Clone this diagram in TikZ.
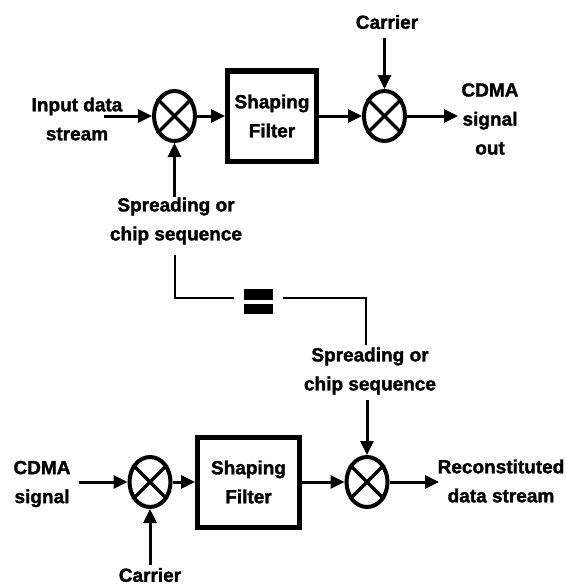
\documentclass[tikz,border=0pt]{standalone}
\usepackage{fontspec}
\setmainfont{Liberation Sans}[BoldFeatures={FakeBold=1.6}]
\usetikzlibrary{shapes.geometric,arrows.meta}

\begin{document}
\begin{tikzpicture}[x=1pt,y=-1pt]
 	\tikzstyle{every node}+=[inner sep=0pt]
 	\tikzstyle{lbl}=[align=center,font=\bfseries\fontsize{19}{29}\selectfont]
 	\tikzstyle{mixer}=[draw,ellipse,line width=4pt,minimum width=41pt,minimum height=50pt]
 	\tikzstyle{filt}=[draw,line width=5pt,lbl]
 	\tikzstyle{sig}=[line width=3pt,-{Triangle[length=14pt,width=13pt]}]
 	\tikzstyle{wire}=[line width=2.2pt]
 	\tikzstyle{eqsign}=[minimum width=29pt,minimum height=25pt,outer sep=10pt,
 	  path picture={\fill (path picture bounding box.north west) rectangle ([yshift=2pt]path picture bounding box.east);
 	    \fill ([yshift=-2pt]path picture bounding box.west) rectangle (path picture bounding box.south east);}]
 	\useasboundingbox (0,0) rectangle (565,586);
 	% transmitter
 	\node [lbl] (inA) at (77,119) {Input data\\stream};
 	\node [mixer] (ma) at (174.5,116) {};
 	\node [filt,minimum width=89pt,minimum height=90pt] (fa) at (272,116) {Shaping\\Filter};
 	\node [mixer] (mb) at (384.5,116) {};
 	\node [lbl] (carA) at (387,22) {Carrier};
 	\node [lbl] (outA) at (490,119) {CDMA\\signal\\out};
 	\node [lbl] (sprA) at (176,221) {Spreading or\\chip sequence};
 	\coordinate (inAend) at (104,116);
 	\coordinate (carAend) at (384.5,38);
 	\coordinate (outAend) at (458,116);
 	\coordinate (sprAend) at (174.5,197);
 	\draw [sig] (inAend) -- (ma);
 	\draw [sig] (ma) -- (fa);
 	\draw [sig] (fa) -- (mb);
 	\draw [sig] (carAend) -- (mb);
 	\draw [sig] (mb) -- (outAend);
 	\draw [sig] (sprAend) -- (ma);
 	% same code at both ends
 	\node [eqsign] (eq) at (258.5,301.5) {};
 	\node [lbl] (sprB) at (370,371) {Spreading or\\chip sequence};
 	\coordinate (wA) at (175,255);
 	\coordinate (wB) at (366,345);
 	\draw [wire] (wA) |- ([yshift=3.5pt]eq.west);
 	\draw [wire] ([yshift=3.5pt]eq.east) -| (wB);
 	% receiver
 	\node [lbl] (inB) at (42,484) {CDMA\\signal};
 	\node [mixer] (mc) at (150,482) {};
 	\node [filt,minimum width=102pt,minimum height=90pt] (fb) at (248.5,482) {Shaping\\Filter};
 	\node [mixer] (md) at (367,482) {};
 	\node [lbl] (outB) at (501,481) {Reconstituted\\data stream};
 	\node [lbl] (carB) at (150,575) {Carrier};
 	\coordinate (inBend) at (79,482);
 	\coordinate (sprBend) at (367,400);
 	\coordinate (outBend) at (439,482);
 	\coordinate (carBend) at (150,565);
 	\draw [sig] (inBend) -- (mc);
 	\draw [sig] (mc) -- (fb);
 	\draw [sig] (fb) -- (md);
 	\draw [sig] (sprBend) -- (md);
 	\draw [sig] (md) -- (outBend);
 	\draw [sig] (carBend) -- (mc);
 	\foreach \m in {ma,mb,mc,md}
 	  \draw [line width=3.5pt] (\m.45) -- (\m.225) (\m.135) -- (\m.315);
\end{tikzpicture}
\end{document}
